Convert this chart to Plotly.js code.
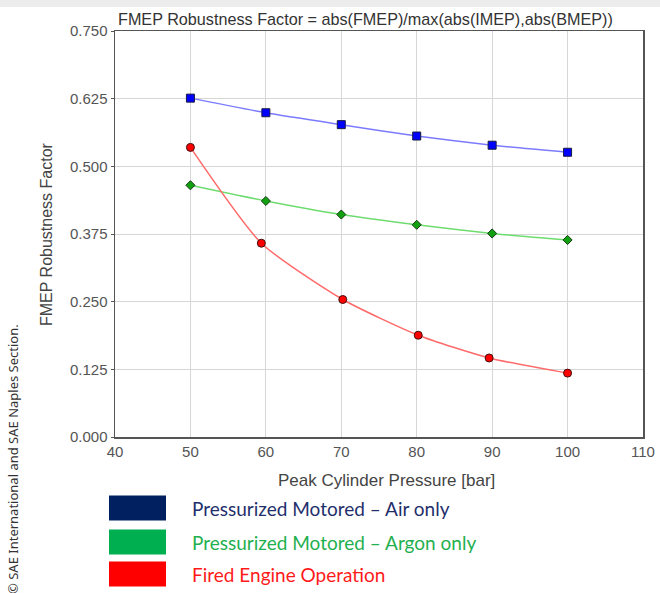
<!DOCTYPE html>
<html>
<head>
<meta charset="utf-8">
<script src="https://cdn.plot.ly/plotly-3.0.1.min.js"></script>
<style>
html,body{margin:0;padding:0;background:#fff;}
#chart{width:660px;height:593px;}
</style>
</head>
<body>
<div id="chart"></div>
<script>
const pressureAir = [50, 60, 70, 80, 90, 100];
const airOnly = [0.626, 0.599, 0.577, 0.556, 0.539, 0.526];
const pressureArgon = [50, 60, 70, 80, 90, 100];
const argonOnly = [0.465, 0.436, 0.411, 0.392, 0.376, 0.364];
const pressureFired = [50, 59.4, 70.2, 80.2, 89.6, 100];
const firedEngine = [0.535, 0.358, 0.254, 0.188, 0.146, 0.118];
const seriesNames = ["Pressurized Motored \u2013 Air only", "Pressurized Motored \u2013 Argon only", "Fired Engine Operation"];
const yTicks = [0, 0.125, 0.25, 0.375, 0.5, 0.625, 0.75];
const yTickText = ["0.000", "0.125", "0.250", "0.375", "0.500", "0.625", "0.750"];
const xTicks = [40, 50, 60, 70, 80, 90, 100, 110];

const traces = [
  {x: pressureAir, y: airOnly, name: seriesNames[0], mode: "lines+markers",
   line: {color: "#7b7bff", width: 1.5, shape: "spline", smoothing: 0.6},
   marker: {symbol: "square", size: 8, color: "#0000ff", line: {color: "#1a1a40", width: 1}}},
  {x: pressureArgon, y: argonOnly, name: seriesNames[1], mode: "lines+markers",
   line: {color: "#6fdc6f", width: 1.5, shape: "spline", smoothing: 0.6},
   marker: {symbol: "diamond", size: 7, color: "#10a010", line: {color: "#143814", width: 1}}},
  {x: pressureFired, y: firedEngine, name: seriesNames[2], mode: "lines+markers",
   line: {color: "#ff6a6a", width: 1.5, shape: "spline", smoothing: 0.6},
   marker: {symbol: "circle", size: 8, color: "#ff0000", line: {color: "#401010", width: 1}}}
];

const legendColors = ["#002060", "#00b050", "#ff0000"];
const legendTextColors = ["#1f2f6b", "#1fb04f", "#ff1a1a"];
const legendY = [508, 542, 574];

// pixel -> paper helpers (plot area 115..643 x 31..437)
const px = v => (v - 115) / 528;
const py = v => (437 - v) / 406;

const shapes = [
  {type: "rect", xref: "paper", yref: "paper", x0: px(0), x1: px(660), y0: py(7), y1: py(0),
   fillcolor: "#ececec", line: {width: 0}, layer: "below"}
];
const annotations = [
  {text: "\u00a9 SAE International and SAE Naples Section.", xref: "paper", yref: "paper",
   x: px(13), y: py(459), textangle: -90, showarrow: false,
   xanchor: "center", yanchor: "middle", font: {family: "Noto Sans, Open Sans, sans-serif", size: 13, color: "#333"}},
  {text: "FMEP Robustness Factor", xref: "paper", yref: "paper",
   x: px(46), y: py(234), textangle: -90, showarrow: false, xanchor: "center", yanchor: "middle",
   font: {family: "Liberation Sans, Arial, sans-serif", size: 16, color: "#444"}},
  {text: "Peak Cylinder Pressure [bar]", xref: "paper", yref: "paper",
   x: px(386), y: py(480), showarrow: false, xanchor: "center", yanchor: "middle",
   font: {family: "Liberation Sans, Arial, sans-serif", size: 17, color: "#444"}}
];
legendY.forEach((cy, i) => {
  shapes.push({type: "rect", xref: "paper", yref: "paper",
    x0: px(109), x1: px(166), y0: py(cy + 12.5), y1: py(cy - 12.5),
    fillcolor: legendColors[i], line: {width: 0}});
  annotations.push({text: seriesNames[i], xref: "paper", yref: "paper",
    x: px(190), y: py(cy), xanchor: "left", yanchor: "middle", showarrow: false,
    font: {family: "Lato, Open Sans, sans-serif", size: 19, color: legendTextColors[i]}});
});

const layout = {
  width: 660, height: 593,
  margin: {l: 115, r: 17, t: 31, b: 156, pad: 0},
  paper_bgcolor: "#ffffff", plot_bgcolor: "#ffffff",
  showlegend: false,
  font: {family: "Liberation Sans, Arial, sans-serif", color: "#555"},
  title: {text: "FMEP Robustness Factor = abs(FMEP)/max(abs(IMEP),abs(BMEP))",
    x: 118 / 660, xanchor: "left", y: 1 - 19 / 593, yanchor: "middle",
    font: {size: 16.2, color: "#333", family: "Liberation Sans, Arial, sans-serif"}},
  xaxis: {range: [40, 110], tickvals: xTicks, ticktext: xTicks.map(String),
    showgrid: true, gridcolor: "#d6d6d6", gridwidth: 1, zeroline: false,
    showline: true, linecolor: "#555", linewidth: 1.5, mirror: true,
    ticks: "", tickfont: {size: 15, color: "#555"}},
  yaxis: {range: [0, 0.75], tickvals: yTicks, ticktext: yTickText,
    showgrid: true, gridcolor: "#d6d6d6", gridwidth: 1, zeroline: false,
    showline: true, linecolor: "#555", linewidth: 1.5, mirror: true,
    ticks: "outside", ticklen: 3, tickcolor: "#555", tickfont: {size: 15, color: "#555"}},
  shapes: shapes,
  annotations: annotations
};

Plotly.newPlot("chart", traces, layout, {displayModeBar: false, staticPlot: true});
</script>
</body>
</html>
